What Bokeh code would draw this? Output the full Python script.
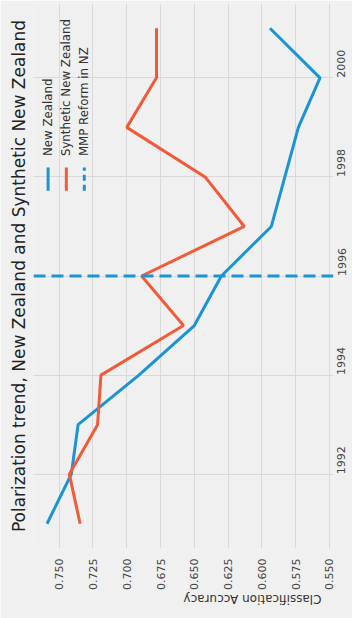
import math
from bokeh.plotting import figure
from bokeh.models import Range1d, Span, Label, FixedTicker, Axis
from bokeh.embed import file_html
from bokeh.resources import INLINE

# ---- data ----
years = [1991, 1992, 1993, 1994, 1995, 1996, 1997, 1998, 1999, 2000, 2001]
new_zealand = [0.759, 0.741, 0.736, 0.691, 0.650, 0.630, 0.593, 0.583, 0.573, 0.557, 0.594]
synthetic_nz = [0.7345, 0.7425, 0.7216, 0.7191, 0.658, 0.689, 0.613, 0.642, 0.700, 0.678, 0.678]
reform_year = 1996
acc_ticks = [0.550, 0.575, 0.600, 0.625, 0.650, 0.675, 0.700, 0.725, 0.750]
acc_tick_labels = {t: f"{t:.3f}" for t in acc_ticks}
year_ticks = [1992, 1994, 1996, 1998, 2000]
series_names = ["New Zealand", "Synthetic New Zealand", "MMP Reform in NZ"]
title_text = "Polarization trend, New Zealand and Synthetic New Zealand"
acc_label = "Classification Accuracy"

BLUE = "#1a94d4"
ORANGE = "#f25a38"
BG = "#f0f0f0"
FONT = "DejaVu Sans"

p = figure(width=352, height=618, output_backend="svg", toolbar_location=None,
           x_range=Range1d(0.769, 0.547), y_range=Range1d(1990.5, 2001.5),
           y_axis_location="right", title=title_text, title_location="left",
           min_border_left=33, min_border_right=15, min_border_top=3,
           min_border_bottom=70)

p.background_fill_color = BG
p.border_fill_color = BG
p.outline_line_color = None

p.title.text_font = FONT
p.title.text_font_size = "17px"
p.title.text_font_style = "normal"
p.title.text_color = "#222222"
p.title.align = "center"
p.title.standoff = 10

# grid
p.xgrid.ticker = FixedTicker(ticks=acc_ticks)
p.ygrid.ticker = FixedTicker(ticks=year_ticks)
p.grid.grid_line_color = "#d9d9d9"
p.grid.grid_line_width = 1

# axes
for ax in p.axis:
    ax.axis_line_color = None
    ax.major_tick_line_color = None
    ax.minor_tick_line_color = None
    ax.major_label_text_font = FONT
    ax.major_label_text_font_size = "11px"
    ax.major_label_text_color = "#444444"

p.xaxis.ticker = FixedTicker(ticks=acc_ticks)
p.xaxis.major_label_overrides = acc_tick_labels
p.xaxis.major_label_orientation = math.pi / 2
p.xaxis.major_label_standoff = 4
p.xaxis.axis_label = acc_label
p.xaxis.axis_label_text_font = FONT
p.xaxis.axis_label_text_font_size = "12px"
p.xaxis.axis_label_text_font_style = "normal"
p.xaxis.axis_label_text_color = "#333333"
p.xaxis.axis_label_standoff = 6
if "axis_label_orientation" in Axis.properties():
    p.xaxis.axis_label_orientation = math.pi

p.yaxis.ticker = FixedTicker(ticks=year_ticks)
p.yaxis.major_label_orientation = math.pi / 2
p.yaxis.major_label_standoff = 2

# data lines
p.line(new_zealand, years, line_color=BLUE, line_width=3)
p.line(synthetic_nz, years, line_color=ORANGE, line_width=3)
p.add_layout(Span(location=reform_year, dimension="width", line_color=BLUE,
                  line_width=3, line_dash="12 6"))

# manual rotated legend (decoration)
leg_x = [0.7582, 0.7447, 0.7314]
leg_colors = [BLUE, ORANGE, BLUE]
leg_dash = ["solid", "solid", "6 4"]
h0, h1 = 1997.72, 1998.19
txt_y = 1998.42
for name, lx, c, d in zip(series_names, leg_x, leg_colors, leg_dash):
    p.line([lx, lx], [h0, h1], line_color=c, line_width=3, line_dash=d)
    p.add_layout(Label(x=lx, y=txt_y, text=name, angle=math.pi / 2,
                       text_align="left", text_baseline="middle",
                       text_font=FONT, text_font_size="11.8px",
                       text_color="#333333"))

open("out.html", "w").write(file_html(p, INLINE))
